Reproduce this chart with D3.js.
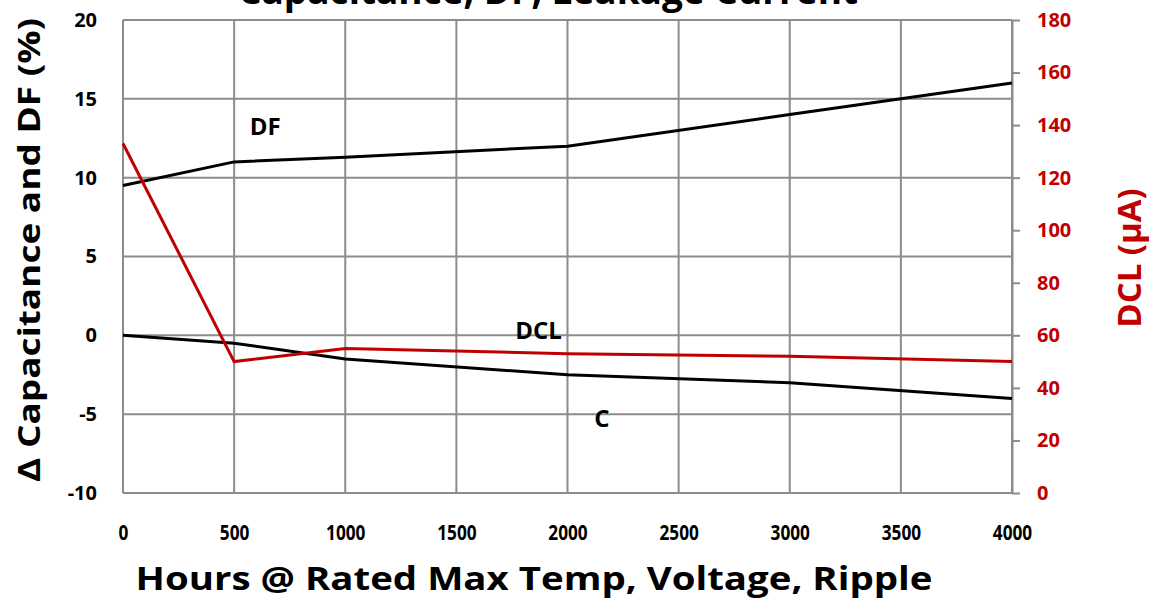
<!DOCTYPE html>
<html>
<head>
<meta charset="utf-8">
<script src="https://cdn.jsdelivr.net/npm/d3@7"></script>
<style>
  body { margin: 0; background: #fff; }
  text { font-family: "Open Sans", "Noto Sans", sans-serif; font-weight: bold; }
</style>
</head>
<body>
<div id="chart"></div>
<script>
// Data
var hours = [0, 500, 1000, 2000, 3000, 4000];
var dfValues = [9.5, 11, 11.3, 12, 14, 16];          // %, left axis
var capValues = [0, -0.5, -1.5, -2.5, -3, -4];       // %, left axis
var dclValues = [133, 50, 55, 53, 52, 50];           // uA, right axis
var xTicks = [0, 500, 1000, 1500, 2000, 2500, 3000, 3500, 4000];
var leftTicks = [-10, -5, 0, 5, 10, 15, 20];
var rightTicks = [0, 20, 40, 60, 80, 100, 120, 140, 160, 180];

var width = 1152, height = 598;
var margin = { top: 20, right: 140, bottom: 105, left: 123 };
var red = "#c00000";
var gridColor = "#8c8c8c";

var svg = d3.select("#chart").append("svg")
    .attr("width", width)
    .attr("height", height);

var x = d3.scaleLinear().domain([0, 4000]).range([margin.left, width - margin.right]);
var yL = d3.scaleLinear().domain([-10, 20]).range([height - margin.bottom, margin.top]);
var yR = d3.scaleLinear().domain([0, 180]).range([height - margin.bottom, margin.top]);

// gridlines
svg.append("g").selectAll("line")
    .data(leftTicks)
    .enter().append("line")
    .attr("x1", x(0)).attr("x2", x(4000))
    .attr("y1", d => yL(d)).attr("y2", d => yL(d))
    .attr("stroke", gridColor).attr("stroke-width", 2);

svg.append("g").selectAll("line")
    .data(xTicks)
    .enter().append("line")
    .attr("x1", d => x(d)).attr("x2", d => x(d))
    .attr("y1", yL(20)).attr("y2", yL(-10))
    .attr("stroke", gridColor).attr("stroke-width", 2);

// left axis labels
var leftAxis = svg.append("g")
    .attr("transform", "translate(" + (margin.left - 26) + ",0)")
    .call(d3.axisLeft(yL).tickValues(leftTicks).tickSize(0).tickPadding(0).tickFormat(d => String(d)));
leftAxis.select(".domain").remove();
leftAxis.selectAll("text")
    .attr("font-size", 20).attr("fill", "#000")
    .style("font-family", "'Open Sans', sans-serif").style("font-weight", "bold");

// right axis
var rightAxis = svg.append("g")
    .attr("transform", "translate(" + x(4000) + ",0)")
    .call(d3.axisRight(yR).tickValues(rightTicks).tickSize(8).tickPadding(17).tickSizeOuter(0));
rightAxis.select(".domain").attr("stroke", gridColor).attr("stroke-width", 2);
rightAxis.selectAll(".tick line").attr("stroke", gridColor).attr("stroke-width", 2);
rightAxis.selectAll("text")
    .attr("font-size", 20).attr("fill", red)
    .style("font-family", "'Open Sans', sans-serif").style("font-weight", "bold");

// bottom axis labels (condensed)
var bottomAxis = svg.append("g")
    .attr("transform", "translate(0," + (yL(-10) + 32) + ")")
    .call(d3.axisBottom(x).tickValues(xTicks).tickSize(0).tickPadding(0).tickFormat(d3.format("d")));
bottomAxis.select(".domain").remove();
bottomAxis.selectAll("text")
    .attr("font-size", 21).attr("fill", "#000")
    .style("font-family", "'Open Sans', sans-serif").style("font-weight", "bold")
    .attr("transform", "scale(0.82,1)");

// lines
var lineL = d3.line().x((d, i) => x(hours[i])).y(d => yL(d));
var lineR = d3.line().x((d, i) => x(hours[i])).y(d => yR(d));

svg.append("path").datum(dfValues)
    .attr("d", lineL).attr("fill", "none")
    .attr("stroke", "#000").attr("stroke-width", 3);
svg.append("path").datum(capValues)
    .attr("d", lineL).attr("fill", "none")
    .attr("stroke", "#000").attr("stroke-width", 3);
svg.append("path").datum(dclValues)
    .attr("d", lineR).attr("fill", "none")
    .attr("stroke", red).attr("stroke-width", 3);

// series labels
var labels = [
    { text: "DF", h: 570, v: 13.1 },
    { text: "DCL", h: 1765, v: 0.2 },
    { text: "C", h: 2120, v: -5.4 }
];
svg.append("g").selectAll("text")
    .data(labels)
    .enter().append("text")
    .attr("x", d => x(d.h)).attr("y", d => yL(d.v))
    .attr("font-size", 24)
    .attr("dominant-baseline", "middle")
    .text(d => d.text);

// axis titles
svg.append("text")
    .attr("transform", "translate(40,250) rotate(-90)")
    .attr("text-anchor", "middle")
    .attr("font-size", 31)
    .attr("textLength", 464).attr("lengthAdjust", "spacingAndGlyphs")
    .text("\u0394 Capacitance and DF (%)");

svg.append("text")
    .attr("transform", "translate(1141,258) rotate(-90)")
    .attr("text-anchor", "middle")
    .attr("font-size", 33)
    .attr("fill", red)
    .text("DCL (\u03bcA)");

svg.append("text")
    .attr("x", 534).attr("y", 590)
    .attr("text-anchor", "middle")
    .attr("font-size", 33)
    .attr("textLength", 797).attr("lengthAdjust", "spacingAndGlyphs")
    .text("Hours @ Rated Max Temp, Voltage, Ripple");

// chart title, mostly cut off at the top as in the reference
svg.append("text")
    .attr("x", 548).attr("y", 4)
    .attr("text-anchor", "middle")
    .attr("font-size", 37)
    .text("Capacitance, DF, Leakage Current");
</script>
</body>
</html>
